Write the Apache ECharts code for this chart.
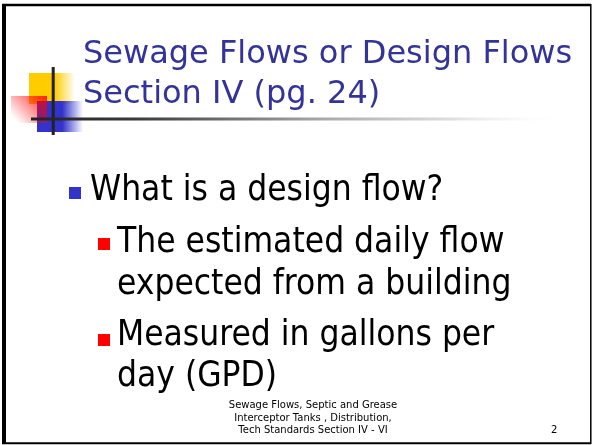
<!DOCTYPE html>
<html><head><meta charset="utf-8">
<script src="https://cdn.jsdelivr.net/npm/echarts@6/dist/echarts.min.js"></script>
<style>html,body{margin:0;padding:0;background:#fff}#c{width:592px;height:445px}</style>
</head><body><div id="c"></div>
<script>
const titleLines = ['Sewage Flows or Design Flows', 'Section IV (pg. 24)'];
const mainBullet = ['What is a design flow?'];
const subBullet1 = ['The estimated daily flow', 'expected from a building'];
const subBullet2 = ['Measured in gallons per', 'day (GPD)'];
const footerLines = ['Sewage Flows, Septic and Grease', 'Interceptor Tanks , Distribution,', 'Tech Standards Section IV - VI'];
const pageNumber = ['2'];

const cv = document.createElement('canvas').getContext('2d');
function midOffset(font) {
  cv.font = font; cv.textBaseline = 'middle';
  return cv.measureText('H').actualBoundingBoxDescent;
}
const TITLE_FONT = '32px "DejaVu Sans"';
const BODY_FONT = '35px "DejaVu Sans Condensed"';
const FOOT_FONT = '10px "DejaVu Sans"';
function textEl(t, x, baseline, font, fill, align) {
  return {type:'text', x:x, y:baseline - midOffset(font), style:{text:t, font:font, fill:fill, align:align||'left', verticalAlign:'middle'}};
}

const chart = echarts.init(document.getElementById('c'), null, {renderer: 'canvas'});
const g = [];
// frame
g.push({type:'line', shape:{x1:4,y1:4,x2:4,y2:444}, style:{stroke:'#000', lineWidth:4}});
g.push({type:'line', shape:{x1:2,y1:5,x2:591,y2:5}, style:{stroke:'#000', lineWidth:2.5}});
g.push({type:'line', shape:{x1:590.8,y1:4,x2:590.8,y2:444}, style:{stroke:'#000', lineWidth:1.5}});
g.push({type:'line', shape:{x1:2,y1:443.2,x2:591,y2:443.2}, style:{stroke:'#000', lineWidth:2}});
// logo
g.push({type:'rect', shape:{x:29,y:73,width:46,height:31}, style:{fill:new echarts.graphic.LinearGradient(0,0,1,0,[{offset:0,color:'#FFCC00'},{offset:0.55,color:'#FFCC00'},{offset:1,color:'rgba(255,204,0,0)'}])}});
g.push({type:'rect', shape:{x:37,y:101,width:46,height:31}, style:{fill:new echarts.graphic.LinearGradient(0,0,1,0,[{offset:0,color:'#3333CC'},{offset:0.55,color:'#3333CC'},{offset:1,color:'rgba(51,51,204,0)'}])}});
g.push({type:'rect', shape:{x:11,y:96,width:36,height:27}, style:{fill:new echarts.graphic.LinearGradient(1,0,0.2,1,[{offset:0,color:'rgba(255,0,0,0.85)'},{offset:1,color:'rgba(255,0,0,0)'}])}});
g.push({type:'line', shape:{x1:53.2,y1:67,x2:53.2,y2:135}, style:{stroke:'#222', lineWidth:3}});
g.push({type:'line', shape:{x1:31,y1:119,x2:565,y2:119}, style:{stroke:new echarts.graphic.LinearGradient(0,0,1,0,[{offset:0,color:'#222'},{offset:0.2,color:'#3a3a3a'},{offset:0.55,color:'#aaa'},{offset:0.8,color:'#e2e2e2'},{offset:1,color:'rgba(255,255,255,0)'}]), lineWidth:3}});
// title
titleLines.forEach((t,i)=>g.push(textEl(t, 83, 63+i*40, TITLE_FONT, '#333399')));
// bullets
g.push({type:'rect', shape:{x:69,y:187,width:12,height:12}, style:{fill:'#3333CC'}});
mainBullet.forEach((t)=>g.push(textEl(t, 90, 200, BODY_FONT, '#000')));
g.push({type:'rect', shape:{x:98,y:238,width:12,height:12}, style:{fill:'#FF0000'}});
subBullet1.forEach((t,i)=>g.push(textEl(t, 117, 252+i*42, BODY_FONT, '#000')));
g.push({type:'rect', shape:{x:98,y:334,width:12,height:12}, style:{fill:'#FF0000'}});
subBullet2.forEach((t,i)=>g.push(textEl(t, 117, 345+i*41, BODY_FONT, '#000')));
// footer
footerLines.forEach((t,i)=>g.push(textEl(t, 313, 408.3+i*12.5, FOOT_FONT, '#000', 'center')));
g.push(textEl(pageNumber[0], 551, 433.3, FOOT_FONT, '#000'));
chart.setOption({animation:false, graphic:{elements:g}});
</script></body></html>
